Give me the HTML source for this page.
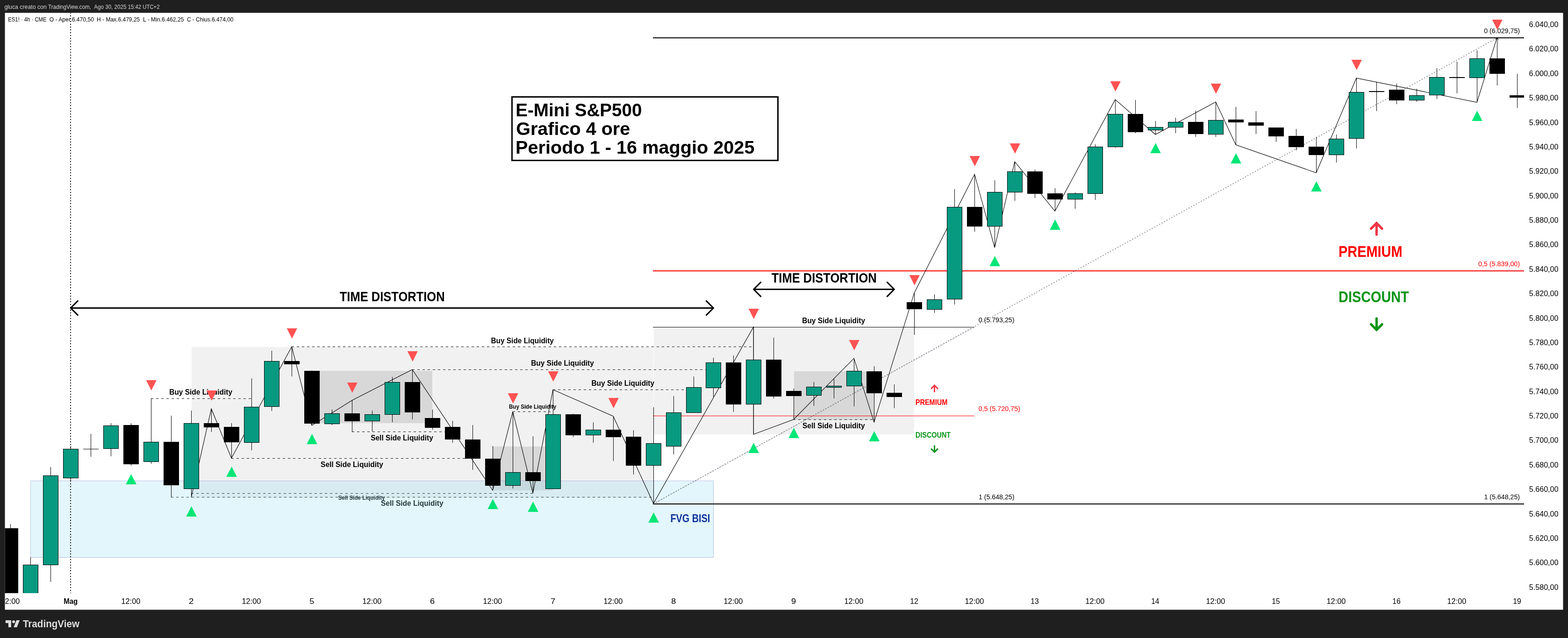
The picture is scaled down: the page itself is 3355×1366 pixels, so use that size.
<!DOCTYPE html>
<html lang="it"><head><meta charset="utf-8"><title>ES1! 4h - TradingView</title>
<style>html,body{margin:0;padding:0;background:#1f1f1f}body{width:3355px;height:1366px}svg{display:block}text{font-family:'Liberation Sans', Arial, sans-serif;white-space:pre}</style>
</head><body>
<svg width="3355" height="1366" viewBox="0 0 3355 1366">
<rect x="0" y="0" width="3355" height="1366" fill="#1f1f1f"/>
<rect x="10.5" y="27.5" width="3334" height="1278" fill="#ffffff"/>
<defs><clipPath id="plot"><rect x="10.5" y="27.5" width="3250.5" height="1242.5"/></clipPath><clipPath id="tclip"><rect x="11.6" y="1270" width="3332" height="35"/></clipPath></defs>
<g clip-path="url(#plot)">
<g shape-rendering="crispEdges" fill="#787878">
<rect x="410" y="743" width="988" height="323" fill-opacity="0.1"/>
<rect x="1399" y="701" width="557" height="229" fill-opacity="0.1"/>
<rect x="667" y="794" width="258" height="112" fill-opacity="0.2"/>
<rect x="1054" y="956" width="129" height="94" fill-opacity="0.2"/>
<rect x="1699" y="795" width="172" height="104" fill-opacity="0.2"/>
</g>
<g stroke="#000" stroke-width="1" stroke-dasharray="5 6" shape-rendering="crispEdges">
<line x1="322.5" y1="853.5" x2="538.5" y2="853.5"/>
<line x1="623.5" y1="742.5" x2="1610" y2="742.5"/>
<line x1="881.5" y1="791.5" x2="1510" y2="791.5"/>
<line x1="1182.5" y1="834.5" x2="1465" y2="834.5"/>
<line x1="1096.5" y1="881.5" x2="1177.5" y2="881.5"/>
<line x1="752.5" y1="924.5" x2="952.5" y2="924.5"/>
<line x1="494.5" y1="981.5" x2="995" y2="981.5"/>
<line x1="408.5" y1="1056.5" x2="1140.5" y2="1056.5"/>
<line x1="365.5" y1="1064.5" x2="1395" y2="1064.5"/>
<line x1="1696.5" y1="898.5" x2="1869.5" y2="898.5"/>
</g>
<text x="362.22" y="845.25" font-size="16.7" font-weight="bold" textLength="134.87" lengthAdjust="spacingAndGlyphs">Buy Side Liquidity</text>
<text x="1050.47" y="735" font-size="16.7" font-weight="bold" textLength="134.37" lengthAdjust="spacingAndGlyphs">Buy Side Liquidity</text>
<text x="1136.22" y="783.25" font-size="16.7" font-weight="bold" textLength="134.62" lengthAdjust="spacingAndGlyphs">Buy Side Liquidity</text>
<text x="1265.47" y="826.25" font-size="16.7" font-weight="bold" textLength="134.62" lengthAdjust="spacingAndGlyphs">Buy Side Liquidity</text>
<text x="1088.98" y="875" font-size="12.5" font-weight="bold" textLength="101.34" lengthAdjust="spacingAndGlyphs">Buy Side Liquidity</text>
<text x="793.13" y="942.7" font-size="16.7" font-weight="bold" textLength="133.65" lengthAdjust="spacingAndGlyphs">Sell Side Liquidity</text>
<text x="686.03" y="1000" font-size="16.7" font-weight="bold" textLength="133.8" lengthAdjust="spacingAndGlyphs">Sell Side Liquidity</text>
<text x="723.65" y="1070" font-size="12.5" font-weight="bold" textLength="99.91" lengthAdjust="spacingAndGlyphs">Sell Side Liquidity</text>
<text x="815.03" y="1083" font-size="16.7" font-weight="bold" textLength="133.55" lengthAdjust="spacingAndGlyphs">Sell Side Liquidity</text>
<text x="1717.03" y="917" font-size="16.7" font-weight="bold" textLength="133.55" lengthAdjust="spacingAndGlyphs">Sell Side Liquidity</text>
<text x="1716.22" y="692" font-size="16.7" font-weight="bold" textLength="134.87" lengthAdjust="spacingAndGlyphs">Buy Side Liquidity</text>
<rect x="65.5" y="1029.5" width="1461" height="164" fill="#8fdbef" fill-opacity="0.25" stroke="#9fa8da" stroke-opacity="0.7" stroke-width="1" shape-rendering="crispEdges"/>
<text x="1434.38" y="1118" font-size="23" fill="#0c3299" font-weight="bold" textLength="84.98" lengthAdjust="spacingAndGlyphs">FVG BISI</text>
<line x1="151" y1="27" x2="151" y2="1270" stroke="#000" stroke-width="2" stroke-dasharray="2 4"/>
<g shape-rendering="crispEdges">
<rect x="1397" y="80" width="1864" height="2" fill="#000"/>
<rect x="1397" y="579" width="1864" height="2" fill="#f00"/>
<rect x="1397" y="1078" width="1864" height="2" fill="#000"/>
<rect x="1397" y="700" width="688" height="1" fill="#000"/>
<rect x="1397" y="890" width="688" height="1" fill="#f00"/>
</g>
<g stroke="#787b86" fill="none">
<line x1="1398.5" y1="1078.5" x2="3203.5" y2="81" stroke-width="1.8" stroke-dasharray="2 4"/>
<line x1="1398.5" y1="1078.5" x2="2085" y2="700.5" stroke-width="1" stroke-dasharray="2 3"/>
<path d="M3199.5 85 L3203.5 81 L3207 86" stroke="#000" stroke-width="1"/>
</g>
<g fill="none" stroke="#000" stroke-width="3" stroke-linecap="round" stroke-linejoin="round">
<path d="M152.2 659.5 H1525.5" stroke-linecap="butt"/>
<path d="M166.29999999999998 644.4 L151.2 659.5 L166.29999999999998 674.6"/>
<path d="M1511.4 644.4 L1526.5 659.5 L1511.4 674.6"/>
</g>
<g fill="none" stroke="#000" stroke-width="3" stroke-linecap="round" stroke-linejoin="round">
<path d="M1613.6 619.5 H1912.4" stroke-linecap="butt"/>
<path d="M1627.6999999999998 604.4 L1612.6 619.5 L1627.6999999999998 634.6"/>
<path d="M1898.3000000000002 604.4 L1913.4 619.5 L1898.3000000000002 634.6"/>
</g>
<text x="726.74" y="644.8" font-size="28.8" font-weight="bold" textLength="224.89" lengthAdjust="spacingAndGlyphs">TIME DISTORTION</text>
<text x="1650.74" y="604.8" font-size="28.8" font-weight="bold" textLength="225.0" lengthAdjust="spacingAndGlyphs">TIME DISTORTION</text>
<polyline fill="none" stroke="#000" stroke-width="1.1" points="409.2,1065.0 452.2,875.2 495.2,981.0 624.2,742.2 667.2,911.0 753.2,857.2 882.2,791.2 1054.2,1050.0 1097.2,881.2 1140.2,1056.0 1183.2,834.2 1312.2,891.2 1398.2,1078.0 1612.2,700.2 1612.2,930.0 1698.2,898.0 1827.2,767.2 1870.2,904.0 1956.2,627.2 2085.2,373.2 2128.2,530.0 2171.2,346.2 2257.2,452.0 2386.2,213.2 2472.2,288.0 2601.2,218.2 2644.2,310.0 2816.2,370.0 2902.2,167.2 3160.2,219.0 3203.2,80.2"/>
<g shape-rendering="crispEdges">
<rect x="22" y="1122" width="1" height="158"/>
<rect x="6" y="1131" width="33" height="149"/>
<rect x="65" y="1193" width="1" height="87"/>
<rect x="49.5" y="1209.5" width="32" height="70" fill="#089981" stroke="#000"/>
<rect x="108" y="1000" width="1" height="246"/>
<rect x="92.5" y="1018.5" width="32" height="191" fill="#089981" stroke="#000"/>
<rect x="151" y="955" width="1" height="75"/>
<rect x="135.5" y="961.5" width="32" height="62" fill="#089981" stroke="#000"/>
<rect x="194" y="929" width="1" height="49"/>
<rect x="178" y="961" width="33" height="1"/>
<rect x="237" y="906" width="1" height="71"/>
<rect x="221.5" y="911.5" width="32" height="49" fill="#089981" stroke="#000"/>
<rect x="280" y="906" width="1" height="91"/>
<rect x="264" y="910" width="33" height="84"/>
<rect x="323" y="853" width="1" height="140"/>
<rect x="307.5" y="946.5" width="32" height="42" fill="#089981" stroke="#000"/>
<rect x="366" y="890" width="1" height="174"/>
<rect x="350" y="946" width="33" height="93"/>
<rect x="409" y="879" width="1" height="186"/>
<rect x="393.5" y="906.5" width="32" height="140" fill="#089981" stroke="#000"/>
<rect x="452" y="875" width="1" height="50"/>
<rect x="436" y="906" width="33" height="9"/>
<rect x="495" y="906" width="1" height="75"/>
<rect x="479" y="914" width="33" height="33"/>
<rect x="538" y="810" width="1" height="154"/>
<rect x="522.5" y="871.5" width="32" height="76" fill="#089981" stroke="#000"/>
<rect x="581" y="751" width="1" height="129"/>
<rect x="565.5" y="773.5" width="32" height="97" fill="#089981" stroke="#000"/>
<rect x="624" y="742" width="1" height="64"/>
<rect x="608" y="773" width="33" height="7"/>
<rect x="667" y="793" width="1" height="118"/>
<rect x="651" y="794" width="33" height="113"/>
<rect x="710" y="877" width="1" height="33"/>
<rect x="694.5" y="885.5" width="32" height="22" fill="#089981" stroke="#000"/>
<rect x="753" y="857" width="1" height="67"/>
<rect x="737" y="885" width="33" height="17"/>
<rect x="796" y="879" width="1" height="45"/>
<rect x="780.5" y="887.5" width="32" height="14" fill="#089981" stroke="#000"/>
<rect x="839" y="807" width="1" height="97"/>
<rect x="823.5" y="818.5" width="32" height="69" fill="#089981" stroke="#000"/>
<rect x="882" y="791" width="1" height="107"/>
<rect x="866" y="818" width="33" height="65"/>
<rect x="925" y="877" width="1" height="43"/>
<rect x="909" y="895" width="33" height="21"/>
<rect x="968" y="901" width="1" height="47"/>
<rect x="952" y="914" width="33" height="27"/>
<rect x="1011" y="910" width="1" height="96"/>
<rect x="995" y="941" width="33" height="41"/>
<rect x="1054" y="955" width="1" height="95"/>
<rect x="1038" y="982" width="33" height="58"/>
<rect x="1097" y="881" width="1" height="165"/>
<rect x="1081.5" y="1011.5" width="32" height="28" fill="#089981" stroke="#000"/>
<rect x="1140" y="934" width="1" height="122"/>
<rect x="1124" y="1011" width="33" height="19"/>
<rect x="1183" y="834" width="1" height="213"/>
<rect x="1167.5" y="887.5" width="32" height="159" fill="#089981" stroke="#000"/>
<rect x="1226" y="886" width="1" height="50"/>
<rect x="1210" y="887" width="33" height="45"/>
<rect x="1269" y="904" width="1" height="44"/>
<rect x="1253.5" y="920.5" width="32" height="11" fill="#089981" stroke="#000"/>
<rect x="1312" y="891" width="1" height="96"/>
<rect x="1296" y="920" width="33" height="16"/>
<rect x="1355" y="921" width="1" height="95"/>
<rect x="1339" y="935" width="33" height="62"/>
<rect x="1398" y="872" width="1" height="206"/>
<rect x="1382.5" y="949.5" width="32" height="47" fill="#089981" stroke="#000"/>
<rect x="1441" y="848" width="1" height="125"/>
<rect x="1425.5" y="883.5" width="32" height="72" fill="#089981" stroke="#000"/>
<rect x="1484" y="806" width="1" height="78"/>
<rect x="1468.5" y="829.5" width="32" height="54" fill="#089981" stroke="#000"/>
<rect x="1526" y="766" width="1" height="84"/>
<rect x="1510.5" y="776.5" width="32" height="54" fill="#089981" stroke="#000"/>
<rect x="1569" y="761" width="1" height="121"/>
<rect x="1553" y="776" width="33" height="90"/>
<rect x="1612" y="700" width="1" height="230"/>
<rect x="1596.5" y="770.5" width="32" height="95" fill="#089981" stroke="#000"/>
<rect x="1655" y="723" width="1" height="130"/>
<rect x="1639" y="770" width="33" height="79"/>
<rect x="1698" y="832" width="1" height="66"/>
<rect x="1682" y="837" width="33" height="11"/>
<rect x="1741" y="818" width="1" height="51"/>
<rect x="1725.5" y="828.5" width="32" height="18" fill="#089981" stroke="#000"/>
<rect x="1784" y="811" width="1" height="42"/>
<rect x="1768.5" y="826.5" width="32" height="3" fill="#089981" stroke="#000"/>
<rect x="1827" y="767" width="1" height="103"/>
<rect x="1811.5" y="794.5" width="32" height="32" fill="#089981" stroke="#000"/>
<rect x="1870" y="784" width="1" height="120"/>
<rect x="1854" y="795" width="33" height="47"/>
<rect x="1913" y="823" width="1" height="51"/>
<rect x="1897" y="841" width="33" height="9"/>
<rect x="1956" y="627" width="1" height="90"/>
<rect x="1940" y="647" width="33" height="15"/>
<rect x="1999" y="630" width="1" height="40"/>
<rect x="1983.5" y="641.5" width="32" height="21" fill="#089981" stroke="#000"/>
<rect x="2042" y="405" width="1" height="247"/>
<rect x="2026.5" y="443.5" width="32" height="197" fill="#089981" stroke="#000"/>
<rect x="2085" y="373" width="1" height="123"/>
<rect x="2069" y="443" width="33" height="42"/>
<rect x="2128" y="386" width="1" height="144"/>
<rect x="2112.5" y="411.5" width="32" height="73" fill="#089981" stroke="#000"/>
<rect x="2171" y="346" width="1" height="84"/>
<rect x="2155.5" y="367.5" width="32" height="44" fill="#089981" stroke="#000"/>
<rect x="2214" y="363" width="1" height="61"/>
<rect x="2198" y="367" width="33" height="48"/>
<rect x="2257" y="403" width="1" height="49"/>
<rect x="2241" y="414" width="33" height="13"/>
<rect x="2300" y="412" width="1" height="35"/>
<rect x="2284.5" y="414.5" width="32" height="12" fill="#089981" stroke="#000"/>
<rect x="2343" y="309" width="1" height="119"/>
<rect x="2327.5" y="314.5" width="32" height="100" fill="#089981" stroke="#000"/>
<rect x="2386" y="213" width="1" height="103"/>
<rect x="2370.5" y="244.5" width="32" height="70" fill="#089981" stroke="#000"/>
<rect x="2429" y="214" width="1" height="71"/>
<rect x="2413" y="244" width="33" height="39"/>
<rect x="2472" y="259" width="1" height="29"/>
<rect x="2456.5" y="272.5" width="32" height="6" fill="#089981" stroke="#000"/>
<rect x="2515" y="252" width="1" height="33"/>
<rect x="2499.5" y="261.5" width="32" height="11" fill="#089981" stroke="#000"/>
<rect x="2558" y="237" width="1" height="56"/>
<rect x="2542" y="261" width="33" height="26"/>
<rect x="2601" y="218" width="1" height="75"/>
<rect x="2585.5" y="257.5" width="32" height="30" fill="#089981" stroke="#000"/>
<rect x="2644" y="229" width="1" height="81"/>
<rect x="2628" y="256" width="33" height="6"/>
<rect x="2687" y="238" width="1" height="49"/>
<rect x="2671" y="262" width="33" height="7"/>
<rect x="2730" y="273" width="1" height="31"/>
<rect x="2714" y="273" width="33" height="19"/>
<rect x="2773" y="276" width="1" height="46"/>
<rect x="2757" y="291" width="33" height="24"/>
<rect x="2816" y="293" width="1" height="77"/>
<rect x="2800" y="314" width="33" height="18"/>
<rect x="2859" y="288" width="1" height="60"/>
<rect x="2843.5" y="297.5" width="32" height="34" fill="#089981" stroke="#000"/>
<rect x="2902" y="167" width="1" height="151"/>
<rect x="2886.5" y="197.5" width="32" height="99" fill="#089981" stroke="#000"/>
<rect x="2945" y="175" width="1" height="63"/>
<rect x="2929" y="195" width="33" height="2"/>
<rect x="2988" y="179" width="1" height="44"/>
<rect x="2972" y="192" width="33" height="23"/>
<rect x="3031" y="190" width="1" height="28"/>
<rect x="3015.5" y="204.5" width="32" height="10" fill="#089981" stroke="#000"/>
<rect x="3074" y="146" width="1" height="66"/>
<rect x="3058.5" y="165.5" width="32" height="38" fill="#089981" stroke="#000"/>
<rect x="3117" y="132" width="1" height="68"/>
<rect x="3101" y="165" width="33" height="2"/>
<rect x="3160" y="108" width="1" height="111"/>
<rect x="3144.5" y="125.5" width="32" height="41" fill="#089981" stroke="#000"/>
<rect x="3203" y="80" width="1" height="103"/>
<rect x="3187" y="125" width="33" height="33"/>
<rect x="3246" y="158" width="1" height="73"/>
<rect x="3230" y="204" width="33" height="5"/>
</g>
<g fill="#ff5252">
<path d="M312.7 814 h22.2 l-11.1 22z"/>
<path d="M441.7 836 h22.2 l-11.1 22z"/>
<path d="M613.7 703 h22.2 l-11.1 22z"/>
<path d="M742.7 819 h22.2 l-11.1 22z"/>
<path d="M871.7 752 h22.2 l-11.1 22z"/>
<path d="M1086.7 842 h22.2 l-11.1 22z"/>
<path d="M1172.7 795 h22.2 l-11.1 22z"/>
<path d="M1301.7 852 h22.2 l-11.1 22z"/>
<path d="M1601.7 661 h22.2 l-11.1 22z"/>
<path d="M1816.7 728 h22.2 l-11.1 22z"/>
<path d="M1945.7 589 h22.2 l-11.1 22z"/>
<path d="M2074.7 334 h22.2 l-11.1 22z"/>
<path d="M2160.7 307 h22.2 l-11.1 22z"/>
<path d="M2375.7 174 h22.2 l-11.1 22z"/>
<path d="M2590.7 179 h22.2 l-11.1 22z"/>
<path d="M2891.7 128 h22.2 l-11.1 22z"/>
<path d="M3192.7 42 h22.2 l-11.1 22z"/>
</g><g fill="#00e676">
<path d="M291.9 1037 h-22.6 l11.3 -22z"/>
<path d="M420.9 1106 h-22.6 l11.3 -22z"/>
<path d="M506.9 1021 h-22.6 l11.3 -22z"/>
<path d="M678.9 951 h-22.6 l11.3 -22z"/>
<path d="M1065.9 1090 h-22.6 l11.3 -22z"/>
<path d="M1151.9 1096 h-22.6 l11.3 -22z"/>
<path d="M1409.9 1119 h-22.6 l11.3 -22z"/>
<path d="M1623.9 970 h-22.6 l11.3 -22z"/>
<path d="M1709.9 938 h-22.6 l11.3 -22z"/>
<path d="M1881.9 945 h-22.6 l11.3 -22z"/>
<path d="M2139.9 570 h-22.6 l11.3 -22z"/>
<path d="M2268.9 492 h-22.6 l11.3 -22z"/>
<path d="M2483.9 328 h-22.6 l11.3 -22z"/>
<path d="M2655.9 350 h-22.6 l11.3 -22z"/>
<path d="M2827.9 410 h-22.6 l11.3 -22z"/>
<path d="M3171.9 259 h-22.6 l11.3 -22z"/>
</g>
<text x="3175.23" y="70.7" font-size="14.8" textLength="76.86" lengthAdjust="spacingAndGlyphs">0 (6.029,75)</text>
<text x="3162.93" y="570" font-size="14.8" fill="#f00" textLength="89.18" lengthAdjust="spacingAndGlyphs">0,5 (5.839,00)</text>
<text x="3175.41" y="1068.7" font-size="14.8" textLength="76.68" lengthAdjust="spacingAndGlyphs">1 (5.648,25)</text>
<text x="2093.63" y="690" font-size="14.8" textLength="76.86" lengthAdjust="spacingAndGlyphs">0 (5.793,25)</text>
<text x="2093.63" y="880" font-size="14.8" fill="#f00" textLength="89.28" lengthAdjust="spacingAndGlyphs">0,5 (5.720,75)</text>
<text x="2093.91" y="1068.7" font-size="14.8" textLength="76.58" lengthAdjust="spacingAndGlyphs">1 (5.648,25)</text>
<text x="2863.97" y="549.8" font-size="32.8" fill="#f00" font-weight="bold" textLength="136.62" lengthAdjust="spacingAndGlyphs">PREMIUM</text>
<text x="2864.08" y="646.9" font-size="33" fill="#089418" font-weight="bold" textLength="150.57" lengthAdjust="spacingAndGlyphs">DISCOUNT</text>
<g fill="none" stroke="#f23645" stroke-width="5.2" stroke-linecap="round" stroke-linejoin="miter"><path d="M2945.4 502.2 V477.8"/><path d="M2933.6 489.6 L2945.4 477.8 L2957.2000000000003 489.6"/></g>
<g fill="none" stroke="#089418" stroke-width="5.2" stroke-linecap="round" stroke-linejoin="miter"><path d="M2945.4 681.8 V706.1"/><path d="M2933.6 694.3000000000001 L2945.4 706.1 L2957.2000000000003 694.3000000000001"/></g>
<text x="1958.83" y="867.1" font-size="17" fill="#f00" font-weight="bold" textLength="68.42" lengthAdjust="spacingAndGlyphs">PREMIUM</text>
<text x="1958.84" y="937" font-size="17" fill="#089418" font-weight="bold" textLength="75.34" lengthAdjust="spacingAndGlyphs">DISCOUNT</text>
<g fill="none" stroke="#f23645" stroke-width="3" stroke-linecap="round" stroke-linejoin="miter"><path d="M1999.5 838.6 V825.2"/><path d="M1992.9 831.8000000000001 L1999.5 825.2 L2006.1 831.8000000000001"/></g>
<g fill="none" stroke="#089418" stroke-width="3" stroke-linecap="round" stroke-linejoin="miter"><path d="M1999.5 954.4 V968"/><path d="M1992.9 961.4 L1999.5 968 L2006.1 961.4"/></g>
<rect x="1095.5" y="207.5" width="569" height="136" fill="#fff" stroke="#000" stroke-width="3"/>
<text x="1103.18" y="248.6" font-size="39.1" font-weight="bold" textLength="270.31" lengthAdjust="spacingAndGlyphs">E-Mini S&amp;P500</text>
<text x="1104.17" y="288.6" font-size="39.1" font-weight="bold" textLength="244.11" lengthAdjust="spacingAndGlyphs">Grafico 4 ore</text>
<text x="1103.11" y="328.6" font-size="39.1" font-weight="bold" textLength="511.33" lengthAdjust="spacingAndGlyphs">Periodo 1 - 16 maggio 2025</text>
</g>
<text x="17.31" y="45.8" font-size="12.7" textLength="82.18" lengthAdjust="spacingAndGlyphs">ES1! · 4h · CME</text>
<text x="105.68" y="45.8" font-size="12.7" textLength="95.29" lengthAdjust="spacingAndGlyphs">O - Aper.6.470,50</text>
<text x="207.0" y="45.8" font-size="12.7" textLength="92.28" lengthAdjust="spacingAndGlyphs">H - Max.6.479,25</text>
<text x="305.99" y="45.8" font-size="12.7" textLength="87.53" lengthAdjust="spacingAndGlyphs">L - Min.6.462,25</text>
<text x="399.9" y="45.8" font-size="12.7" textLength="99.55" lengthAdjust="spacingAndGlyphs">C - Chius.6.474,00</text>
<g fill="#d6d6d6">
<text x="9.47" y="18.9" font-size="13.5" textLength="90.33" lengthAdjust="spacingAndGlyphs">gluca creato con</text>
<text x="102.98" y="18.9" font-size="13.5" textLength="91.85" lengthAdjust="spacingAndGlyphs">TradingView.com,</text>
<text x="201.21" y="18.9" font-size="13.5" textLength="69.29" lengthAdjust="spacingAndGlyphs">Ago 30, 2025</text>
<text x="273.63" y="18.9" font-size="13.5" textLength="67.93" lengthAdjust="spacingAndGlyphs">15:42 UTC+2</text>
</g>
<text x="3271.59" y="58.0" font-size="16.6" textLength="62.94" lengthAdjust="spacingAndGlyphs">6.040,00</text>
<text x="3271.59" y="110.0" font-size="16.6" textLength="62.94" lengthAdjust="spacingAndGlyphs">6.020,00</text>
<text x="3271.59" y="162.5" font-size="16.6" textLength="62.94" lengthAdjust="spacingAndGlyphs">6.000,00</text>
<text x="3271.75" y="215.0" font-size="16.6" textLength="62.78" lengthAdjust="spacingAndGlyphs">5.980,00</text>
<text x="3271.75" y="267.5" font-size="16.6" textLength="62.78" lengthAdjust="spacingAndGlyphs">5.960,00</text>
<text x="3271.75" y="319.5" font-size="16.6" textLength="62.78" lengthAdjust="spacingAndGlyphs">5.940,00</text>
<text x="3271.75" y="372.0" font-size="16.6" textLength="62.78" lengthAdjust="spacingAndGlyphs">5.920,00</text>
<text x="3271.75" y="424.5" font-size="16.6" textLength="62.78" lengthAdjust="spacingAndGlyphs">5.900,00</text>
<text x="3271.75" y="477.0" font-size="16.6" textLength="62.78" lengthAdjust="spacingAndGlyphs">5.880,00</text>
<text x="3271.75" y="529.0" font-size="16.6" textLength="62.78" lengthAdjust="spacingAndGlyphs">5.860,00</text>
<text x="3271.75" y="581.5" font-size="16.6" textLength="62.78" lengthAdjust="spacingAndGlyphs">5.840,00</text>
<text x="3271.75" y="634.0" font-size="16.6" textLength="62.78" lengthAdjust="spacingAndGlyphs">5.820,00</text>
<text x="3271.75" y="686.5" font-size="16.6" textLength="62.78" lengthAdjust="spacingAndGlyphs">5.800,00</text>
<text x="3271.75" y="738.5" font-size="16.6" textLength="62.78" lengthAdjust="spacingAndGlyphs">5.780,00</text>
<text x="3271.75" y="791.0" font-size="16.6" textLength="62.78" lengthAdjust="spacingAndGlyphs">5.760,00</text>
<text x="3271.75" y="843.5" font-size="16.6" textLength="62.78" lengthAdjust="spacingAndGlyphs">5.740,00</text>
<text x="3271.75" y="896.0" font-size="16.6" textLength="62.78" lengthAdjust="spacingAndGlyphs">5.720,00</text>
<text x="3271.75" y="948.0" font-size="16.6" textLength="62.78" lengthAdjust="spacingAndGlyphs">5.700,00</text>
<text x="3271.75" y="1000.5" font-size="16.6" textLength="62.78" lengthAdjust="spacingAndGlyphs">5.680,00</text>
<text x="3271.75" y="1053.0" font-size="16.6" textLength="62.78" lengthAdjust="spacingAndGlyphs">5.660,00</text>
<text x="3271.75" y="1105.5" font-size="16.6" textLength="62.78" lengthAdjust="spacingAndGlyphs">5.640,00</text>
<text x="3271.75" y="1157.5" font-size="16.6" textLength="62.78" lengthAdjust="spacingAndGlyphs">5.620,00</text>
<text x="3271.75" y="1210.0" font-size="16.6" textLength="62.78" lengthAdjust="spacingAndGlyphs">5.600,00</text>
<text x="3271.75" y="1262.5" font-size="16.6" textLength="62.78" lengthAdjust="spacingAndGlyphs">5.580,00</text>
<g clip-path="url(#tclip)">
<text x="1.55" y="1293.1" font-size="16.8" textLength="40.68" lengthAdjust="spacingAndGlyphs">12:00</text>
<text x="136.2" y="1293.1" font-size="16.8" font-weight="bold" textLength="30.0" lengthAdjust="spacingAndGlyphs">Mag</text>
<text x="259.55" y="1293.1" font-size="16.8" textLength="40.68" lengthAdjust="spacingAndGlyphs">12:00</text>
<text x="404.02" y="1293.1" font-size="16.8" textLength="10.35" lengthAdjust="spacingAndGlyphs">2</text>
<text x="517.55" y="1293.1" font-size="16.8" textLength="40.68" lengthAdjust="spacingAndGlyphs">12:00</text>
<text x="662.23" y="1293.1" font-size="16.8" textLength="9.99" lengthAdjust="spacingAndGlyphs">5</text>
<text x="775.55" y="1293.1" font-size="16.8" textLength="40.68" lengthAdjust="spacingAndGlyphs">12:00</text>
<text x="920.03" y="1293.1" font-size="16.8" textLength="10.2" lengthAdjust="spacingAndGlyphs">6</text>
<text x="1033.55" y="1293.1" font-size="16.8" textLength="40.68" lengthAdjust="spacingAndGlyphs">12:00</text>
<text x="1178.02" y="1293.1" font-size="16.8" textLength="10.35" lengthAdjust="spacingAndGlyphs">7</text>
<text x="1291.55" y="1293.1" font-size="16.8" textLength="40.68" lengthAdjust="spacingAndGlyphs">12:00</text>
<text x="1436.17" y="1293.1" font-size="16.8" textLength="10.06" lengthAdjust="spacingAndGlyphs">8</text>
<text x="1548.55" y="1293.1" font-size="16.8" textLength="40.68" lengthAdjust="spacingAndGlyphs">12:00</text>
<text x="1693.09" y="1293.1" font-size="16.8" textLength="10.2" lengthAdjust="spacingAndGlyphs">9</text>
<text x="1806.55" y="1293.1" font-size="16.8" textLength="40.68" lengthAdjust="spacingAndGlyphs">12:00</text>
<text x="1947.19" y="1293.1" font-size="16.8" textLength="17.59" lengthAdjust="spacingAndGlyphs">12</text>
<text x="2064.55" y="1293.1" font-size="16.8" textLength="40.68" lengthAdjust="spacingAndGlyphs">12:00</text>
<text x="2205.2" y="1293.1" font-size="16.8" textLength="17.47" lengthAdjust="spacingAndGlyphs">13</text>
<text x="2322.55" y="1293.1" font-size="16.8" textLength="40.68" lengthAdjust="spacingAndGlyphs">12:00</text>
<text x="2463.21" y="1293.1" font-size="16.8" textLength="17.24" lengthAdjust="spacingAndGlyphs">14</text>
<text x="2580.55" y="1293.1" font-size="16.8" textLength="40.68" lengthAdjust="spacingAndGlyphs">12:00</text>
<text x="2721.2" y="1293.1" font-size="16.8" textLength="17.47" lengthAdjust="spacingAndGlyphs">15</text>
<text x="2838.55" y="1293.1" font-size="16.8" textLength="40.68" lengthAdjust="spacingAndGlyphs">12:00</text>
<text x="2979.2" y="1293.1" font-size="16.8" textLength="17.47" lengthAdjust="spacingAndGlyphs">16</text>
<text x="3096.55" y="1293.1" font-size="16.8" textLength="40.68" lengthAdjust="spacingAndGlyphs">12:00</text>
<text x="3237.19" y="1293.1" font-size="16.8" textLength="17.53" lengthAdjust="spacingAndGlyphs">19</text>
</g>
<g fill="#dedede"><path d="M11.8 1328.1h12.1v14.8h-6v-8.9h-6.1z"/><circle cx="29.1" cy="1331.2" r="3"/><path d="M35.2 1328.1h6.8l-5.8 14.8h-7z"/>
<text x="48.89" y="1342.9" font-size="21.5" font-weight="bold" textLength="121.08" lengthAdjust="spacingAndGlyphs">TradingView</text></g>
</svg>
</body></html>
